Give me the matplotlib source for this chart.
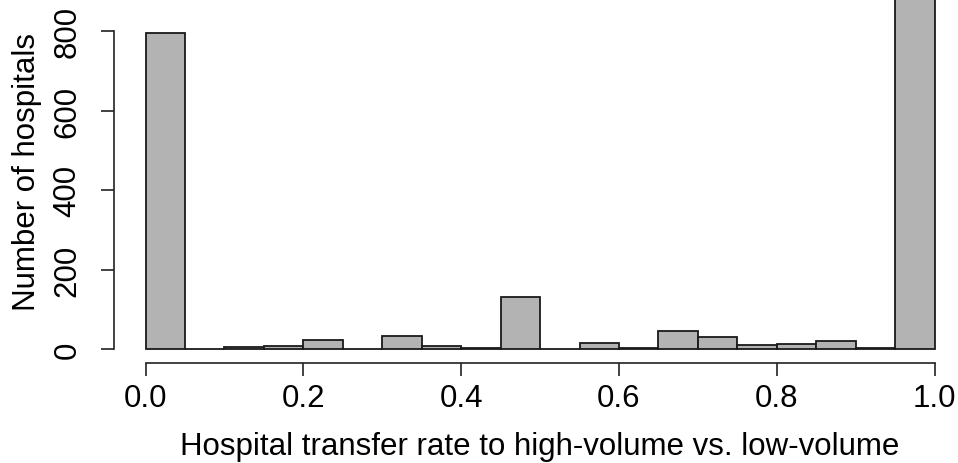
import matplotlib
matplotlib.use("Agg")
import matplotlib.pyplot as plt
import numpy as np

plt.rcParams['font.family'] = ['Liberation Sans', 'DejaVu Sans']

bin_edges = [round(0.05 * i, 2) for i in range(21)]
counts = [794, 0, 4, 8, 23, 0, 33, 8, 2, 132, 0, 14, 2, 45, 31, 9, 12, 20, 2, 895]
x_ticks = [0.0, 0.2, 0.4, 0.6, 0.8, 1.0]
x_tick_labels = ["0.0", "0.2", "0.4", "0.6", "0.8", "1.0"]
y_ticks = [0, 200, 400, 600, 800]
y_tick_labels = ["0", "200", "400", "600", "800"]

W, H = 958, 464
fig = plt.figure(figsize=(W / 100, H / 100), dpi=100)
ymax = max(counts)
ylo, yhi = -0.04 * ymax, 1.04 * ymax
px_per_unit = 318 / 800
left = 114 / W
bottom = (H - (350 - ylo * px_per_unit)) / H
width = (0.04 * 2 + 1.0) * 789 / W
height = (yhi - ylo) * px_per_unit / H
ax = fig.add_axes([left, bottom, width, height])

widths = np.diff(bin_edges)
ax.bar(bin_edges[:-1], counts, width=widths, align='edge',
       color='#b3b3b3', edgecolor='#1a1a1a', linewidth=1.3)

ax.set_xlim(-0.04, 1.04)
ax.set_ylim(ylo, yhi)

for s in ['top', 'right']:
    ax.spines[s].set_visible(False)
ax.spines['bottom'].set_bounds(0, 1)
ax.spines['left'].set_bounds(0, 800)
for s in ['bottom', 'left']:
    ax.spines[s].set_linewidth(1.2)
    ax.spines[s].set_color('#222222')

fs = 22.5
ax.set_xticks(x_ticks)
ax.set_xticklabels(x_tick_labels, fontsize=fs)
ax.set_yticks(y_ticks)
ax.set_yticklabels(y_tick_labels, fontsize=fs, rotation=90, va='center')
ax.tick_params(axis='both', length=9.5, width=1.2, color='#222222')
ax.tick_params(axis='x', pad=5)
ax.tick_params(axis='y', pad=13)

ax.set_xlabel("Hospital transfer rate to high-volume vs. low-volume", fontsize=fs, labelpad=13)
ax.set_ylabel("Number of hospitals", fontsize=fs, labelpad=8)

fig.savefig("out.png", dpi=100)
